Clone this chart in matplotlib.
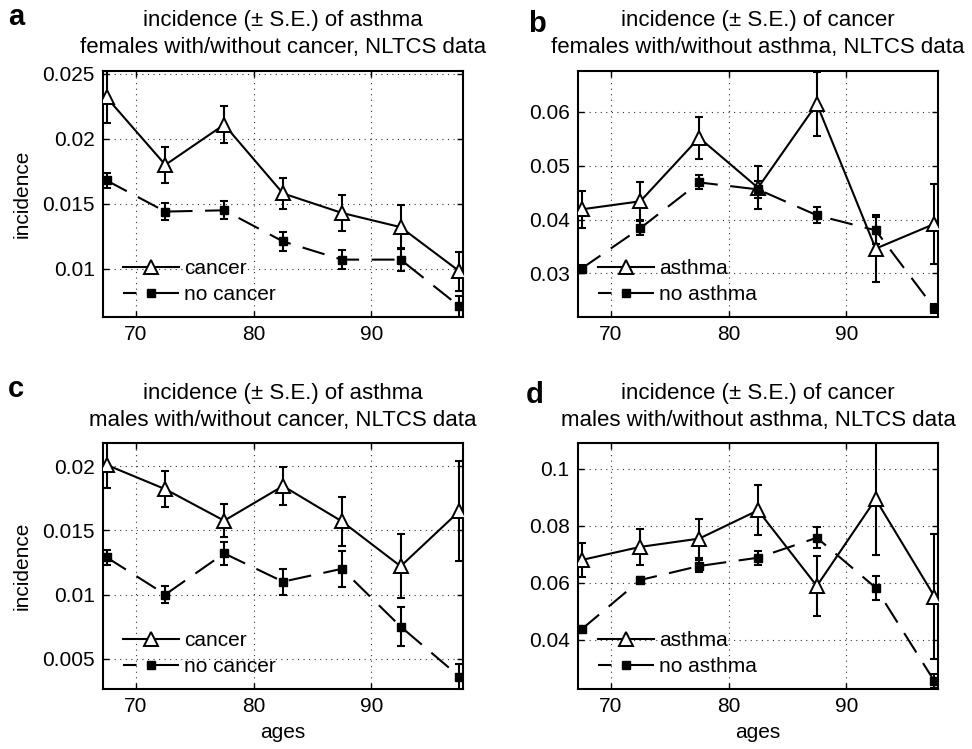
import numpy as np
import matplotlib
matplotlib.use('Agg')
import matplotlib.pyplot as plt
from matplotlib.ticker import FuncFormatter

plt.rcParams['font.family'] = ['Liberation Sans', 'DejaVu Sans']

# age group midpoints
ages = [67.5, 72.5, 77.5, 82.5, 87.5, 92.5, 97.5]
age_ticks = [70, 80, 90]

# a: asthma incidence, females with/without cancer
a_cancer = [0.0232, 0.0180, 0.0211, 0.0158, 0.0143, 0.0132, 0.0098]
a_cancer_se = [0.0020, 0.0014, 0.0014, 0.0012, 0.0014, 0.0017, 0.0015]
a_nocancer = [0.0168, 0.0144, 0.0145, 0.0121, 0.0107, 0.0107, 0.0071]
a_nocancer_se = [0.0006, 0.00065, 0.0007, 0.0007, 0.00075, 0.0009, 0.0008]

# b: cancer incidence, females with/without asthma
b_asthma = [0.0419, 0.0434, 0.0552, 0.0459, 0.0615, 0.0346, 0.0392]
b_asthma_se = [0.0035, 0.0035, 0.0039, 0.0040, 0.0060, 0.0062, 0.0074]
b_noasthma = [0.0309, 0.0384, 0.0469, 0.0456, 0.0408, 0.0380, 0.0235]
b_noasthma_se = [0.0006, 0.0013, 0.0013, 0.0016, 0.0015, 0.0025, 0.0009]

# c: asthma incidence, males with/without cancer
c_cancer = [0.0201, 0.0182, 0.01575, 0.01845, 0.0157, 0.0122, 0.0165]
c_cancer_se = [0.0018, 0.0014, 0.0013, 0.0015, 0.0019, 0.0025, 0.0039]
c_nocancer = [0.0129, 0.0100, 0.0132, 0.0110, 0.0120, 0.0075, 0.0036]
c_nocancer_se = [0.0006, 0.00065, 0.0009, 0.0010, 0.0014, 0.0015, 0.0010]

# d: cancer incidence, males with/without asthma
d_asthma = [0.0680, 0.0726, 0.0755, 0.0854, 0.0589, 0.0893, 0.0552]
d_asthma_se = [0.0060, 0.0064, 0.0068, 0.0088, 0.0105, 0.0196, 0.0220]
d_noasthma = [0.0437, 0.0610, 0.0659, 0.0688, 0.0758, 0.0583, 0.0255]
d_noasthma_se = [0.0008, 0.0010, 0.0021, 0.0024, 0.0037, 0.0042, 0.0025]

W, H = 972, 749


def draw_panel(ax, yes, yes_se, no, no_se, labels, yticks, ylim):
  dash = (0, (11, 6))
  ax.errorbar(ages, yes, yerr=yes_se, fmt='none', ecolor='black',
              elinewidth=1.5, capsize=2.6, capthick=1.5, zorder=3)
  ax.errorbar(ages, no, yerr=no_se, fmt='none', ecolor='black',
              elinewidth=1.5, capsize=2.6, capthick=1.5, zorder=3)
  ax.plot(ages, yes, color='black', lw=1.5, marker='^', ms=9.5,
          mfc='white', mec='black', mew=1.4, label=labels[0], zorder=4)
  ax.plot(ages, no, color='black', lw=1.5, linestyle=dash, marker='s', ms=6,
          mfc='black', mec='black', label=labels[1], zorder=4)

  ax.set_xlim(67.2, 97.8)
  ax.set_ylim(*ylim)
  ax.set_xticks(age_ticks)
  ax.set_yticks(yticks)
  ax.yaxis.set_major_formatter(FuncFormatter(lambda v, p: '%g' % v))
  ax.tick_params(direction='in', top=True, right=True, length=4,
                 width=1, labelsize=15, pad=6)
  ax.grid(True, color='#333333', linestyle=(0, (1, 4)), lw=0.8)
  for s in ax.spines.values():
    s.set_linewidth(1.5)

  leg = ax.legend(loc='lower left', bbox_to_anchor=(0.055, 0.052), frameon=False,
                  fontsize=15, handlelength=2.7, handletextpad=0.25,
                  labelspacing=0.34, borderpad=0, borderaxespad=0)
  # short dash then gap before the marker, like the original legend
  leg.get_lines()[1].set_linestyle((0, (6.5, 5, 40, 1)))


fig = plt.figure(figsize=(W / 100, H / 100), dpi=100)

# axes boxes in pixels: left, top, right, bottom
boxes = {'a': (103, 71, 463, 317), 'b': (578, 71, 938, 317),
         'c': (103, 443, 463, 689), 'd': (578, 443, 938, 689)}
axs = {}
for k, (l, t, r, b) in boxes.items():
  axs[k] = fig.add_axes([l / W, 1 - b / H, (r - l) / W, (b - t) / H])

draw_panel(axs['a'], a_cancer, a_cancer_se, a_nocancer, a_nocancer_se,
           ['cancer', 'no cancer'], [0.01, 0.015, 0.02, 0.025], (0.00628, 0.02523))
draw_panel(axs['b'], b_asthma, b_asthma_se, b_noasthma, b_noasthma_se,
           ['asthma', 'no asthma'], [0.03, 0.04, 0.05, 0.06], (0.0219, 0.0676))
draw_panel(axs['c'], c_cancer, c_cancer_se, c_nocancer, c_nocancer_se,
           ['cancer', 'no cancer'], [0.005, 0.01, 0.015, 0.02], (0.00264, 0.0218))
draw_panel(axs['d'], d_asthma, d_asthma_se, d_noasthma, d_noasthma_se,
           ['asthma', 'no asthma'], [0.04, 0.06, 0.08, 0.1], (0.0228, 0.109))

titles = {
  'a': ('incidence (\u00b1 S.E.) of asthma', 'females with/without cancer, NLTCS data'),
  'b': ('incidence (\u00b1 S.E.) of cancer', 'females with/without asthma, NLTCS data'),
  'c': ('incidence (\u00b1 S.E.) of asthma', 'males with/without cancer, NLTCS data'),
  'd': ('incidence (\u00b1 S.E.) of cancer', 'males with/without asthma, NLTCS data'),
}
# baselines of the two title lines and of the panel letter (pixels)
title_y = {'a': (26, 53), 'b': (26, 53), 'c': (399, 426), 'd': (399, 426)}
letter_pos = {'a': (8, 25), 'b': (528, 32), 'c': (8, 397), 'd': (526, 403)}

for k, (l, t, r, b) in boxes.items():
  cx = (l + r) / 2 / W
  for line, y in zip(titles[k], title_y[k]):
    fig.text(cx, 1 - y / H, line, ha='center', va='baseline', fontsize=16)
  lx, ly = letter_pos[k]
  fig.text(lx / W, 1 - ly / H, k, ha='left', va='baseline', fontsize=21,
           fontweight='bold')

for k in ['a', 'c']:
  l, t, r, b = boxes[k]
  fig.text(21.7 / W, 1 - (t + b) / 2 / H, 'incidence', rotation=90,
           ha='center', va='center', fontsize=15)
for k in ['c', 'd']:
  l, t, r, b = boxes[k]
  fig.text((l + r) / 2 / W, 1 - 733 / H, 'ages', ha='center', va='center',
           fontsize=15)

fig.savefig('out.png', dpi=100)
